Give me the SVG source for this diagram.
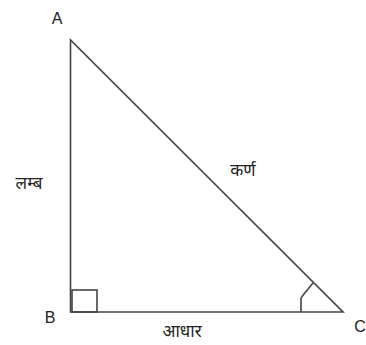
<svg xmlns="http://www.w3.org/2000/svg" width="366" height="345" viewBox="0 0 366 345">
<style>
.edge{stroke:#444;stroke-width:1.6;fill:none}
.lbl{font-family:"Liberation Sans",Arial,sans-serif;font-size:16px;fill:#222}
.hi{font-family:"Noto Sans","Noto Sans Devanagari","Liberation Sans",sans-serif;font-size:17px;fill:#222}
</style>
<rect width="366" height="345" fill="#fff"/>
<g id="connectors">
<path class="edge" d="M70.5,40 L70.5,312 L343,312 Z"/>
<rect class="edge" x="72" y="290" width="25" height="22" stroke-width="2"/>
<path class="edge" d="M301,312 L301,298 L304,294 L313,283"/>
</g>
<g id="A"><text class="lbl" x="57" y="24" text-anchor="middle">A</text></g>
<g id="B"><text class="lbl" x="50" y="323" text-anchor="middle">B</text></g>
<g id="C"><text class="lbl" x="360" y="332" text-anchor="middle">C</text></g>
<g id="lamb"><text class="hi" x="29" y="189" text-anchor="middle">लम्ब</text></g>
<g id="karn"><text class="hi" x="243" y="176" text-anchor="middle">कर्ण</text></g>
<g id="aadhar"><text class="hi" x="182" y="337" text-anchor="middle">आधार</text></g>
</svg>
